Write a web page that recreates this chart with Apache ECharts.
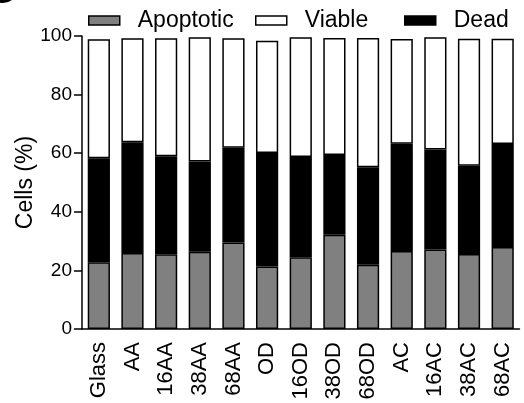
<!DOCTYPE html>
<html>
<head>
<meta charset="utf-8">
<script src="https://cdn.jsdelivr.net/npm/echarts@6/dist/echarts.min.js"></script>
<style>
  html, body { margin: 0; padding: 0; background: #fff; }
  #chart { width: 524px; height: 403px; }
</style>
</head>
<body>
<div id="chart"></div>
<script>
const categories = ["Glass", "AA", "16AA", "38AA", "68AA", "OD", "16OD", "38OD", "68OD", "AC", "16AC", "38AC", "68AC"];
// stacked percentages
const apoptotic = [22.8, 25.9, 25.5, 26.4, 29.5, 21.3, 24.5, 32.2, 21.9, 26.6, 27.1, 25.6, 28.0];
const dead = [35.5, 37.8, 33.5, 30.8, 32.4, 38.8, 34.2, 27.2, 33.3, 36.6, 34.2, 30.1, 35.1];
const viable = [40.6, 35.5, 40.2, 42.4, 37.3, 38.3, 40.9, 39.9, 44.1, 35.8, 38.3, 43.4, 36.0];
const yTicks = [0, 20, 40, 60, 80, 100];
const legendNames = ["Apoptotic", "Viable", "Dead"];
const legendLeft = [83, 250, 399];

const chart = echarts.init(document.getElementById("chart"), null, { renderer: "canvas" });

const font = "'Liberation Sans', Arial, sans-serif";
const border = { borderColor: "#000", borderWidth: 1.5 };

// one legend block per entry so each can sit where the original put it
const legends = legendNames.map((name, i) => ({
  left: legendLeft[i],
  top: 4,
  icon: "rect",
  itemWidth: 31,
  itemHeight: 9,
  selectedMode: false,
  data: [name],
  itemStyle: { borderColor: "#000", borderWidth: 1.5 },
  textStyle: { fontSize: 23, color: "#000", fontFamily: font, padding: [0, 0, 0, 13] },
}));

chart.setOption({
  animation: false,
  backgroundColor: "#fff",
  textStyle: { fontFamily: font },
  graphic: [
    { type: "circle", shape: { cx: 3, cy: -12, r: 15 }, style: { fill: "#000" } },
  ],
  legend: legends,
  grid: { left: 82, right: 4.5, top: 36, bottom: 74, containLabel: false, outerBoundsMode: "none" },
  xAxis: {
    type: "category",
    data: categories,
    axisLine: { lineStyle: { color: "#000", width: 1.5 } },
    axisTick: { alignWithLabel: true, length: 8, lineStyle: { color: "#000", width: 1.5 } },
    axisLabel: { rotate: 90, fontSize: 22, color: "#000", margin: 13, fontFamily: font },
  },
  yAxis: {
    type: "value",
    min: yTicks[0],
    max: yTicks[yTicks.length - 1],
    interval: 20,
    name: "Cells (%)",
    nameLocation: "middle",
    nameGap: 45,
    nameMoveOverlap: false,
    nameTextStyle: { fontSize: 23, color: "#000", fontFamily: font },
    axisLine: { show: true, lineStyle: { color: "#000", width: 1.5 } },
    axisTick: { show: true, length: 8, lineStyle: { color: "#000", width: 1.5 } },
    axisLabel: { fontSize: 19, color: "#000", margin: 10, fontFamily: font },
    splitLine: { show: false },
  },
  series: [
    { name: "Apoptotic", type: "bar", stack: "cells", barWidth: "66%", data: apoptotic, itemStyle: Object.assign({ color: "#808080" }, border) },
    { name: "Dead", type: "bar", stack: "cells", data: dead, itemStyle: Object.assign({ color: "#000" }, border) },
    { name: "Viable", type: "bar", stack: "cells", data: viable, itemStyle: Object.assign({ color: "#fff" }, border) },
  ],
});
</script>
</body>
</html>
